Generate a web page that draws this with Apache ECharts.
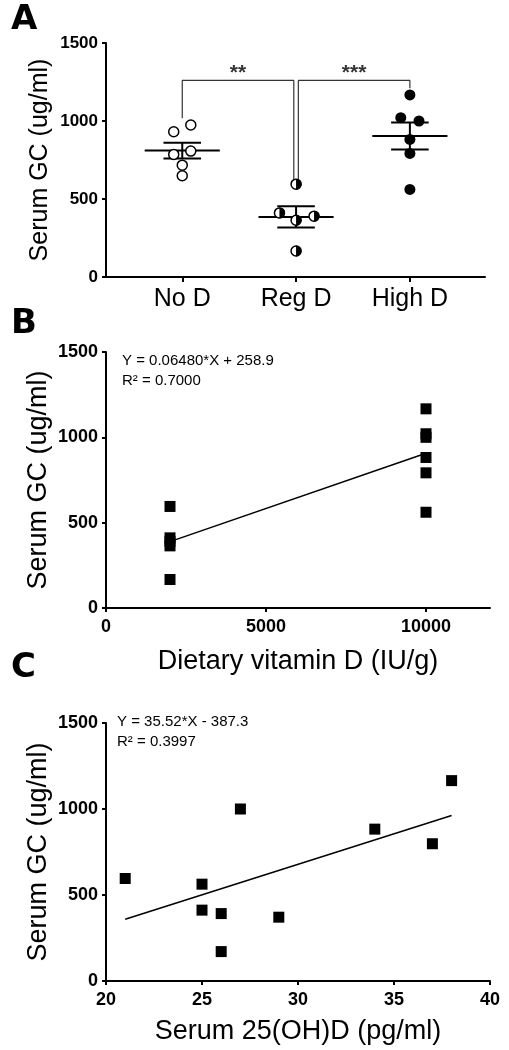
<!DOCTYPE html>
<html>
<head>
<meta charset="utf-8">
<script src="https://cdn.jsdelivr.net/npm/echarts@6/dist/echarts.min.js"></script>
<style>
  html, body { margin: 0; padding: 0; background: #fff; }
  #chart { width: 509px; height: 1050px; }
</style>
</head>
<body>
<div id="chart"></div>
<script>
// ---- data ----
var groupNames = ['No D', 'Reg D', 'High D'];
var noD = [931, 974, 786, 807, 717, 649];
var noDX = [0.925, 1.075, 0.925, 1.075, 1.0, 1.0];
var regD = [595, 411, 390, 364, 167];
var regDX = [2.0, 1.854, 2.158, 2.0, 2.0];
var highD = [1167, 1021, 1000, 882, 792, 561];
var highDX = [3.0, 2.92, 3.08, 3.0, 3.0, 3.0];
var yTicks = [0, 500, 1000, 1500];

// panel B: dietary dose per group (Reg D, High D)
var dietDose = [2000, 10000];
var xTicksB = [0, 5000, 10000];
var fitB = [[2000, 389], [10000, 907]];

// panel C
var serum25 = [21, 25, 25, 26, 26, 27, 29, 34, 37, 38];
var serumGC = [596, 563, 412, 392, 171, 1000, 371, 883, 798, 1165];
var xTicksC = [20, 25, 30, 35, 40];
var fitC = [[21, 359], [38, 962]];

// significance brackets (x, y in panel A units)
var bracketL = [[1, 1017], [1, 1260], [1.98, 1260], [1.98, 610]];
var bracketR = [[2.02, 610], [2.02, 1260], [3, 1260], [3, 1210]];

var FONT = '"Liberation Sans", Arial, sans-serif';

function pairs(xs, ys) {
    return ys.map(function (v, i) { return [xs[i], v]; });
}
function stats(vals) {
    var n = vals.length;
    var m = vals.reduce(function (a, b) { return a + b; }, 0) / n;
    var ss = vals.reduce(function (a, b) { return a + (b - m) * (b - m); }, 0);
    return { mean: m, sem: Math.sqrt(ss / (n - 1)) / Math.sqrt(n) };
}
function plain(v) { return String(v); }

var chart = echarts.init(document.getElementById('chart'));

function yAxis(gi, fs, nameFs, gap) {
    return {
        gridIndex: gi, type: 'value', min: 0, max: 1500, interval: 500,
        name: 'Serum GC (ug/ml)', nameLocation: 'middle', nameGap: gap, nameMoveOverlap: false,
        nameTextStyle: { fontFamily: FONT, fontSize: nameFs, color: '#000' },
        axisLine: { show: true, lineStyle: { color: '#000', width: 2 } },
        axisTick: { show: true, length: 4, customValues: yTicks, lineStyle: { color: '#000', width: 2 } },
        splitLine: { show: false },
        axisLabel: { customValues: yTicks, formatter: plain, margin: 8, fontFamily: FONT, fontWeight: 'bold', fontSize: fs, color: '#000' }
    };
}

var statData = [noD, regD, highD].map(function (g, i) {
    var s = stats(g);
    return [i + 1, s.mean, s.sem];
});

var option = {
    animation: false,
    backgroundColor: '#fff',
    grid: [
        { left: 106, top: 43, width: 379, height: 234 },
        { left: 106, top: 352, width: 384, height: 256 },
        { left: 106, top: 723, width: 384, height: 258 }
    ],
    xAxis: [
        {
            gridIndex: 0, type: 'value', min: 0.33, max: 3.66,
            axisLine: { show: true, onZero: false, lineStyle: { color: '#000', width: 2 } },
            axisTick: { show: true, length: 5, customValues: [1, 2, 3], lineStyle: { color: '#000', width: 2 } },
            splitLine: { show: false },
            axisLabel: {
                customValues: [1, 2, 3], margin: 10, fontFamily: FONT, fontSize: 25, color: '#000',
                formatter: function (v) { return groupNames[Math.round(v) - 1]; }
            }
        },
        {
            gridIndex: 1, type: 'value', min: 0, max: 12000,
            name: 'Dietary vitamin D (IU/g)', nameLocation: 'middle', nameGap: 40,
            nameTextStyle: { fontFamily: FONT, fontSize: 27, color: '#000' },
            axisLine: { show: true, onZero: false, lineStyle: { color: '#000', width: 2 } },
            axisTick: { show: true, length: 4, customValues: xTicksB, lineStyle: { color: '#000', width: 2 } },
            splitLine: { show: false },
            axisLabel: { customValues: xTicksB, formatter: plain, margin: 10, fontFamily: FONT, fontWeight: 'bold', fontSize: 18, color: '#000' }
        },
        {
            gridIndex: 2, type: 'value', min: 20, max: 40, interval: 5,
            name: 'Serum 25(OH)D (pg/ml)', nameLocation: 'middle', nameGap: 37,
            nameTextStyle: { fontFamily: FONT, fontSize: 27, color: '#000' },
            axisLine: { show: true, onZero: false, lineStyle: { color: '#000', width: 2 } },
            axisTick: { show: true, length: 4, customValues: xTicksC, lineStyle: { color: '#000', width: 2 } },
            splitLine: { show: false },
            axisLabel: { customValues: xTicksC, formatter: plain, margin: 10, fontFamily: FONT, fontWeight: 'bold', fontSize: 18, color: '#000' }
        }
    ],
    yAxis: [yAxis(0, 17, 25, 53), yAxis(1, 18, 27, 54), yAxis(2, 18, 27, 54)],
    graphic: [
        { type: 'text', left: 11, top: 3, style: { text: 'A', font: 'bold 34px "DejaVu Sans"', fill: '#000' } },
        { type: 'text', left: 11, top: 307, style: { text: 'B', font: 'bold 34px "DejaVu Sans"', fill: '#000' } },
        { type: 'text', left: 11, top: 651, style: { text: 'C', font: 'bold 34px "DejaVu Sans"', fill: '#000' } },
        { type: 'text', left: 122, top: 353, style: { text: 'Y = 0.06480*X + 258.9', font: '15px ' + FONT, fill: '#000' } },
        { type: 'text', left: 122, top: 373, style: { text: 'R\u00b2 = 0.7000', font: '15px ' + FONT, fill: '#000' } },
        { type: 'text', left: 117, top: 714, style: { text: 'Y = 35.52*X - 387.3', font: '15px ' + FONT, fill: '#000' } },
        { type: 'text', left: 117, top: 734, style: { text: 'R\u00b2 = 0.3997', font: '15px ' + FONT, fill: '#000' } }
    ],
    series: [
        // ---- panel A ----
        {
            type: 'line', xAxisIndex: 0, yAxisIndex: 0, data: bracketL, symbol: 'none',
            lineStyle: { color: '#333', width: 1.2 }
        },
        {
            type: 'line', xAxisIndex: 0, yAxisIndex: 0, data: bracketR, symbol: 'none',
            lineStyle: { color: '#333', width: 1.2 }
        },
        {
            type: 'scatter', xAxisIndex: 0, yAxisIndex: 0, symbolSize: 1,
            itemStyle: { color: 'rgba(0,0,0,0)' },
            data: [
                { value: [1.49, 1260], label: { formatter: '**' } },
                { value: [2.51, 1260], label: { formatter: '***' } }
            ],
            label: { show: true, position: 'top', distance: -4, fontFamily: FONT, fontWeight: 'bold', fontSize: 21, color: '#000' }
        },
        {
            type: 'custom', xAxisIndex: 0, yAxisIndex: 0, data: statData, z: 3,
            renderItem: function (params, api) {
                var x = api.value(0), m = api.value(1), s = api.value(2);
                var a = api.coord([x - 0.33, m]), b = api.coord([x + 0.33, m]);
                var t1 = api.coord([x - 0.165, m + s]), t2 = api.coord([x + 0.165, m + s]);
                var b1 = api.coord([x - 0.165, m - s]), b2 = api.coord([x + 0.165, m - s]);
                var st = { stroke: '#000', lineWidth: 2 };
                return {
                    type: 'group', children: [
                        { type: 'line', shape: { x1: a[0], y1: a[1], x2: b[0], y2: b[1] }, style: st },
                        { type: 'line', shape: { x1: (t1[0] + t2[0]) / 2, y1: t1[1], x2: (b1[0] + b2[0]) / 2, y2: b1[1] }, style: st },
                        { type: 'line', shape: { x1: t1[0], y1: t1[1], x2: t2[0], y2: t2[1] }, style: st },
                        { type: 'line', shape: { x1: b1[0], y1: b1[1], x2: b2[0], y2: b2[1] }, style: st }
                    ]
                };
            }
        },
        {
            type: 'scatter', xAxisIndex: 0, yAxisIndex: 0, data: pairs(noDX, noD), z: 4,
            symbol: 'circle', symbolSize: 10,
            itemStyle: { color: '#fff', borderColor: '#000', borderWidth: 1.5, opacity: 1 }
        },
        {
            type: 'custom', xAxisIndex: 0, yAxisIndex: 0, data: pairs(regDX, regD), z: 4,
            renderItem: function (params, api) {
                var p = api.coord([api.value(0), api.value(1)]);
                return {
                    type: 'group', children: [
                        { type: 'circle', shape: { cx: p[0], cy: p[1], r: 5 }, style: { fill: '#fff', stroke: '#000', lineWidth: 1.5 } },
                        { type: 'sector', shape: { cx: p[0], cy: p[1], r0: 0, r: 5.5, startAngle: -Math.PI / 2, endAngle: Math.PI / 2 }, style: { fill: '#000' } }
                    ]
                };
            }
        },
        {
            type: 'scatter', xAxisIndex: 0, yAxisIndex: 0, data: pairs(highDX, highD), z: 4,
            symbol: 'circle', symbolSize: 11,
            itemStyle: { color: '#000', opacity: 1 }
        },
        // ---- panel B ----
        {
            type: 'line', xAxisIndex: 1, yAxisIndex: 1, data: fitB, symbol: 'none',
            lineStyle: { color: '#000', width: 1.5 }
        },
        {
            type: 'scatter', xAxisIndex: 1, yAxisIndex: 1, symbol: 'rect', symbolSize: 11,
            itemStyle: { color: '#000', opacity: 1 },
            data: pairs(regD.map(function () { return dietDose[0]; }), regD)
                .concat(pairs(highD.map(function () { return dietDose[1]; }), highD))
        },
        // ---- panel C ----
        {
            type: 'line', xAxisIndex: 2, yAxisIndex: 2, data: fitC, symbol: 'none',
            lineStyle: { color: '#000', width: 1.5 }
        },
        {
            type: 'scatter', xAxisIndex: 2, yAxisIndex: 2, symbol: 'rect', symbolSize: 11,
            itemStyle: { color: '#000', opacity: 1 },
            data: pairs(serum25, serumGC)
        }
    ]
};

chart.setOption(option);
</script>
</body>
</html>
